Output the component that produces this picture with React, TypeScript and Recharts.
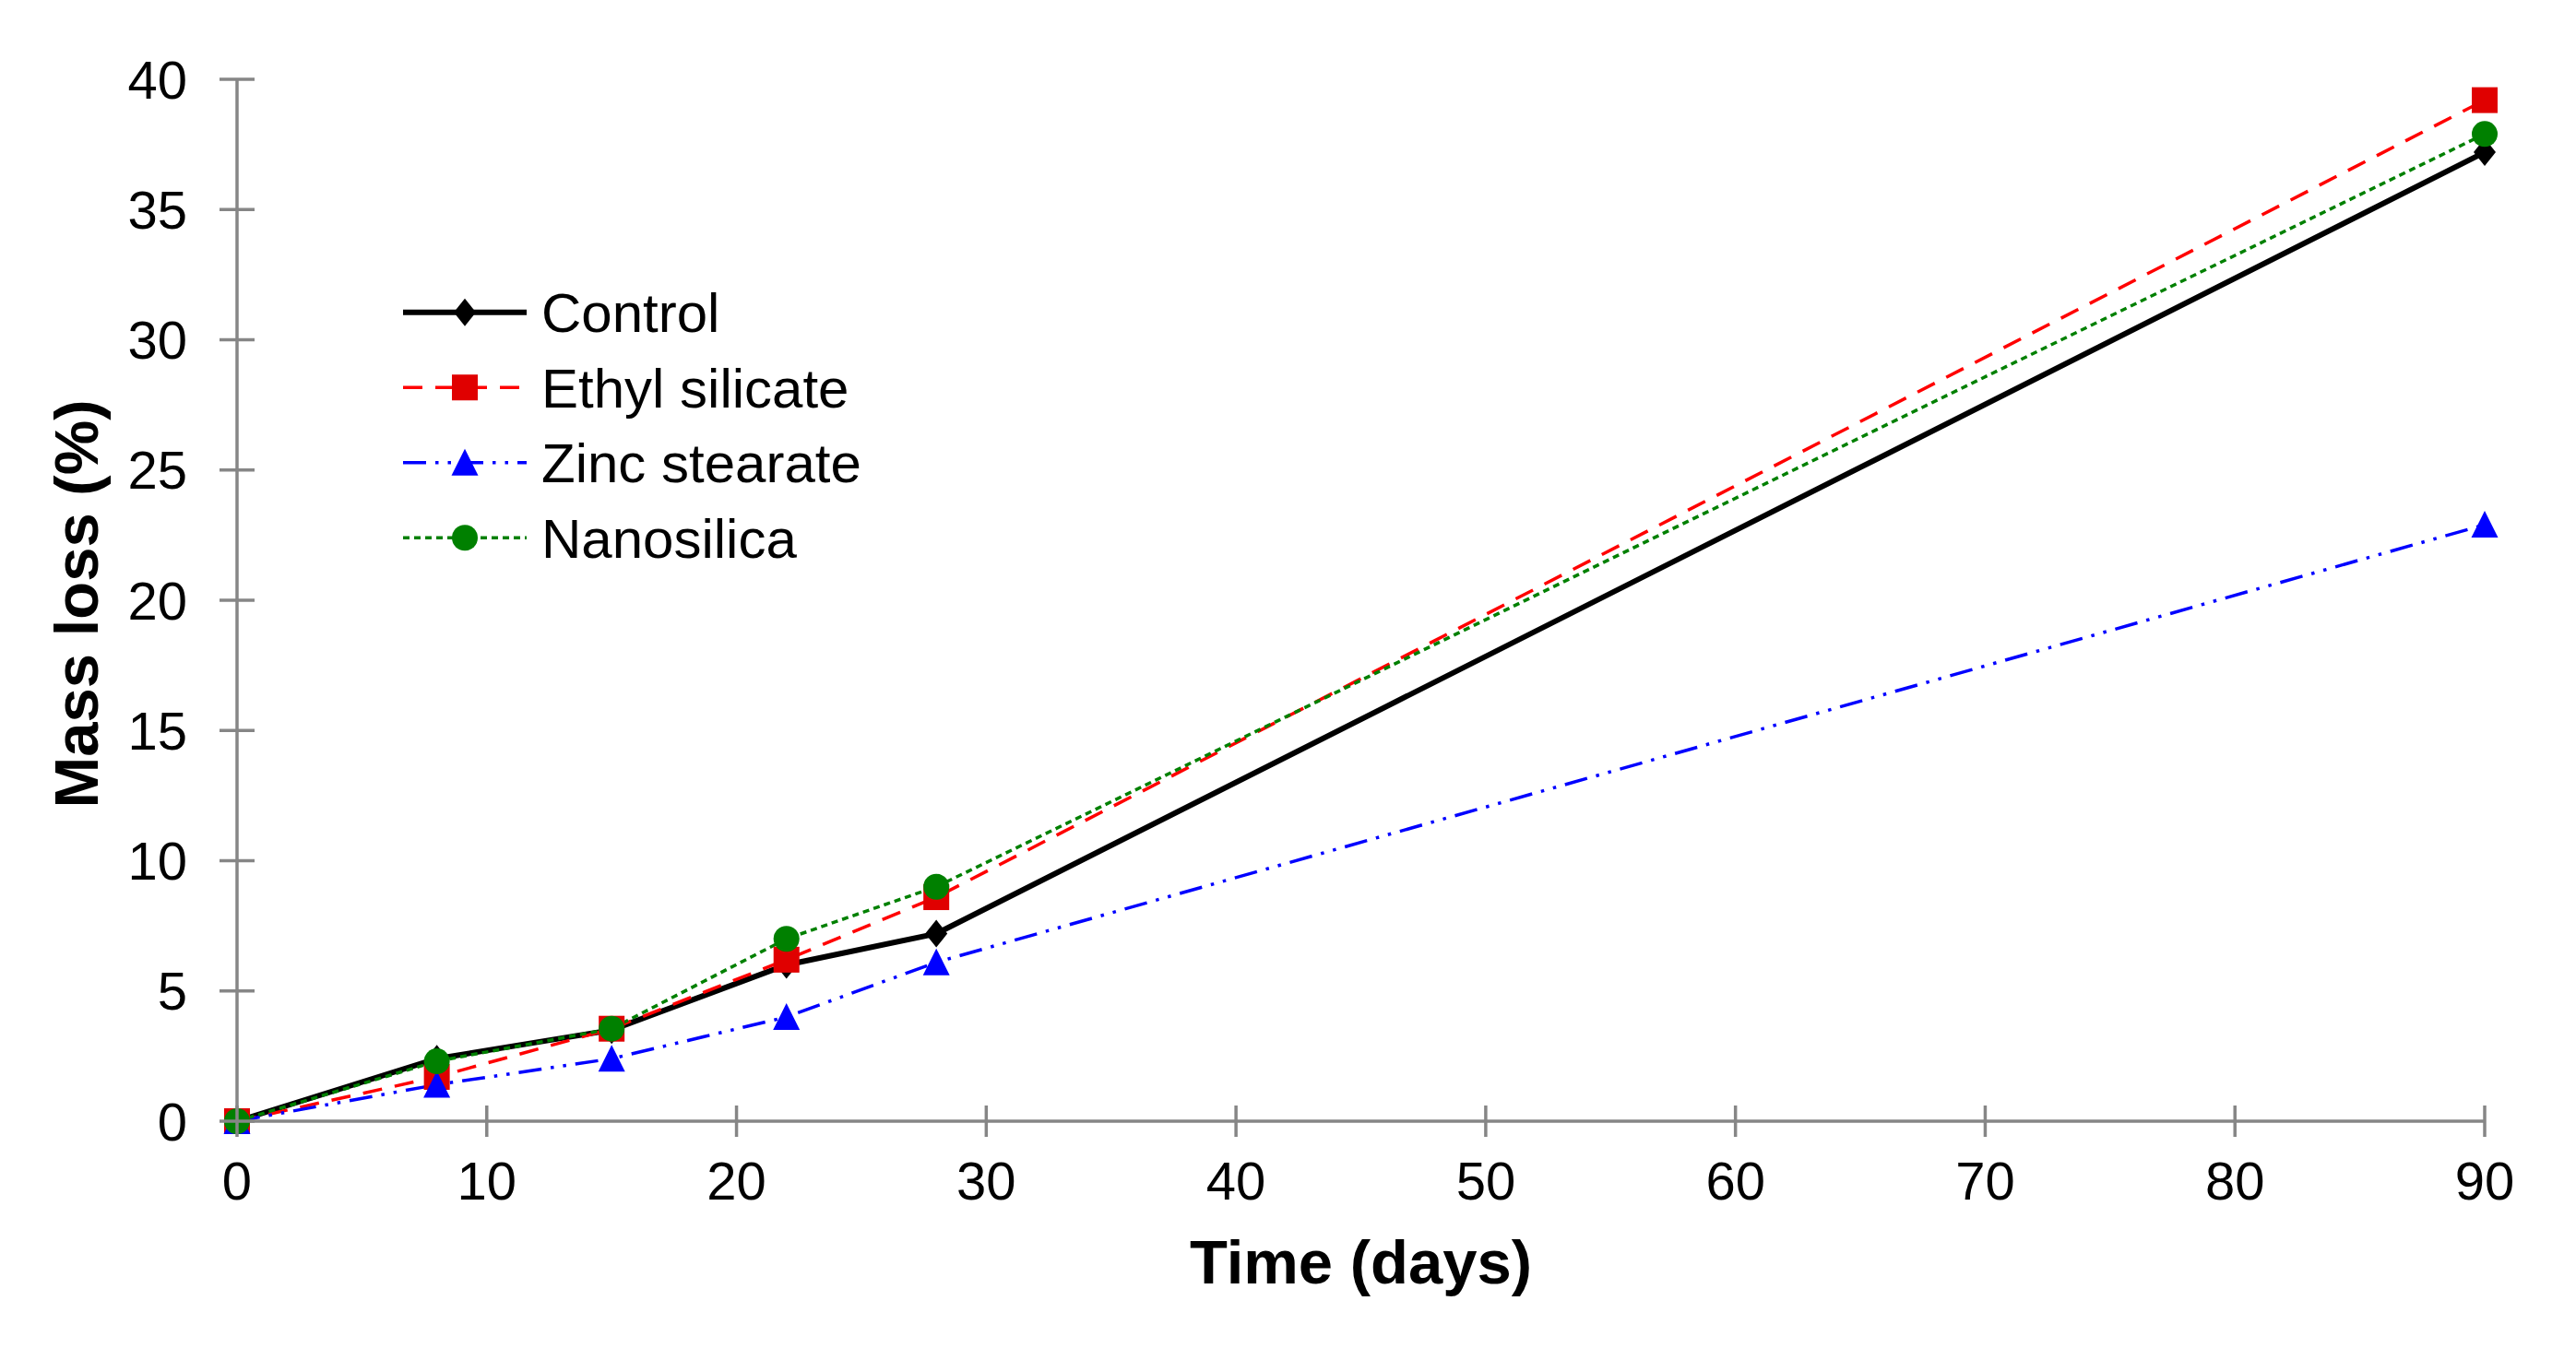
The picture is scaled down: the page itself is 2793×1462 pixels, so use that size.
import React from 'react';
import { LineChart, Line, XAxis, YAxis, Legend } from 'recharts';

const days = [0, 8, 15, 22, 28, 90];
const controlLoss = [0, 2.4, 3.5, 6.0, 7.2, 37.2];
const ethylSilicateLoss = [0, 1.7, 3.55, 6.2, 8.6, 39.2];
const zincStearateLoss = [0, 1.4, 2.4, 4.0, 6.1, 22.9];
const nanosilicaLoss = [0, 2.3, 3.55, 7.0, 9.0, 37.9];
const xTicks = [0, 10, 20, 30, 40, 50, 60, 70, 80, 90];
const yTicks = [0, 5, 10, 15, 20, 25, 30, 35, 40];

const data = days.map((d, i) => ({
  day: d,
  control: controlLoss[i],
  ethyl: ethylSilicateLoss[i],
  zinc: zincStearateLoss[i],
  nano: nanosilicaLoss[i],
}));

type Shape = 'diamond' | 'square' | 'triangle' | 'circle';
interface SeriesCfg {
  key: string;
  name: string;
  color: string;
  markerColor: string;
  width: number;
  dash?: string;
  shape: Shape;
}

const SERIES: SeriesCfg[] = [
  { key: 'control', name: 'Control', color: '#000000', markerColor: '#000000', width: 6, shape: 'diamond' },
  { key: 'ethyl', name: 'Ethyl silicate', color: '#FF0000', markerColor: '#E00000', width: 3.5, dash: '21 14', shape: 'square' },
  { key: 'zinc', name: 'Zinc stearate', color: '#0000FF', markerColor: '#0000FF', width: 3.5, dash: '25 10 3.5 10 3.5 10', shape: 'triangle' },
  { key: 'nano', name: 'Nanosilica', color: '#008000', markerColor: '#008000', width: 3.5, dash: '7 5', shape: 'circle' },
];

const FONT = '"Liberation Sans", Arial, sans-serif';
const AXIS_COLOR = '#868686';
const AXIS_W = 3.5;

function Marker({ shape, cx, cy, color }: { shape: Shape; cx: number; cy: number; color: string }) {
  if (cx == null || cy == null || isNaN(cx) || isNaN(cy)) return null;
  switch (shape) {
    case 'diamond':
      return <path d={`M${cx},${cy - 15}L${cx + 12},${cy}L${cx},${cy + 15}L${cx - 12},${cy}Z`} fill={color} />;
    case 'square':
      return <rect x={cx - 14} y={cy - 14} width={28} height={28} fill={color} />;
    case 'triangle':
      return <path d={`M${cx},${cy - 15}L${cx + 14.5},${cy + 14}L${cx - 14.5},${cy + 14}Z`} fill={color} />;
    case 'circle':
    default:
      return <circle cx={cx} cy={cy} r={14} fill={color} />;
  }
}

const XTick = (props: any) => {
  const { x, y, payload } = props;
  return (
    <g>
      <line x1={x} x2={x} y1={y - 17} y2={y + 17} stroke={AXIS_COLOR} strokeWidth={AXIS_W} />
      <text x={x} y={y + 64} dy="0.355em" textAnchor="middle" fontSize={58} fontFamily={FONT} fill="#000">
        {payload.value}
      </text>
    </g>
  );
};

const YTick = (props: any) => {
  const { x, y, payload } = props;
  return (
    <g>
      <line x1={x - 19} x2={x + 19} y1={y} y2={y} stroke={AXIS_COLOR} strokeWidth={AXIS_W} />
      <text x={x - 54} y={y} dy="0.355em" textAnchor="end" fontSize={58} fontFamily={FONT} fill="#000">
        {payload.value}
      </text>
    </g>
  );
};

const XTitle = (props: any) => {
  const vb = props.viewBox || {};
  const cx = vb.x + vb.width / 2;
  const by = vb.y + 176;
  return (
    <text x={cx} y={by} textAnchor="middle" fontSize={67} fontWeight="bold" fontFamily={FONT} fill="#000">
      Time (days)
    </text>
  );
};

const YTitle = (props: any) => {
  const vb = props.viewBox || {};
  const bx = vb.x + 106;
  const cy = vb.y + vb.height / 2 + 4;
  return (
    <text
      x={bx}
      y={cy}
      textAnchor="middle"
      transform={`rotate(-90 ${bx} ${cy})`}
      fontSize={67}
      fontWeight="bold"
      fontFamily={FONT}
      fill="#000"
    >
      Mass loss (%)
    </text>
  );
};

const LegendContent = (props: any) => {
  const payload: any[] = props.payload || [];
  const keys = payload.map((p) => p.dataKey);
  const items = SERIES.filter((s) => keys.length === 0 || keys.includes(s.key));
  const rowH = 81.5;
  return (
    <svg width={560} height={330} style={{ display: 'block', overflow: 'visible' }}>
      {items.map((s, i) => {
        const cy = rowH / 2 + i * rowH;
        return (
          <g key={s.key}>
            <line x1={0} x2={134} y1={cy} y2={cy} stroke={s.color} strokeWidth={s.width} strokeDasharray={s.dash} />
            <Marker shape={s.shape} cx={67} cy={cy} color={s.markerColor} />
            <text x={150} y={cy} dy="0.355em" fontSize={60} fontFamily={FONT} fill="#000">
              {s.name}
            </text>
          </g>
        );
      })}
    </svg>
  );
};

export default function App() {
  return (
    <div style={{ position: 'absolute', left: 0, top: 0, width: 2793, height: 1462, background: '#fff' }}>
      <LineChart
        width={2793}
        height={1462}
        data={data}
        margin={{ top: 86, right: 99, bottom: 0, left: 0 }}
      >
        <XAxis
          dataKey="day"
          type="number"
          domain={[0, 90]}
          ticks={xTicks}
          interval={0}
          height={246}
          tickSize={0}
          tickMargin={0}
          tickLine={false}
          axisLine={{ stroke: AXIS_COLOR, strokeWidth: AXIS_W }}
          tick={<XTick />}
          label={<XTitle />}
        />
        <YAxis
          type="number"
          domain={[0, 40]}
          ticks={yTicks}
          interval={0}
          width={257}
          tickSize={0}
          tickMargin={0}
          tickLine={false}
          axisLine={{ stroke: AXIS_COLOR, strokeWidth: AXIS_W }}
          tick={<YTick />}
          label={<YTitle />}
        />
        <Legend
          layout="vertical"
          align="center"
          verticalAlign="middle"
          itemSorter={null as any}
          content={<LegendContent />}
          wrapperStyle={{ left: 437, top: 298, width: 560, height: 330 }}
        />
        {SERIES.map((s) => (
          <Line
            key={s.key}
            type="linear"
            dataKey={s.key}
            name={s.name}
            stroke={s.color}
            strokeWidth={s.width}
            strokeDasharray={s.dash}
            isAnimationActive={false}
            activeDot={false}
            dot={(p: any) => <Marker key={`${s.key}-${p.index}`} shape={s.shape} cx={p.cx} cy={p.cy} color={s.markerColor} />}
          />
        ))}
      </LineChart>
    </div>
  );
}
